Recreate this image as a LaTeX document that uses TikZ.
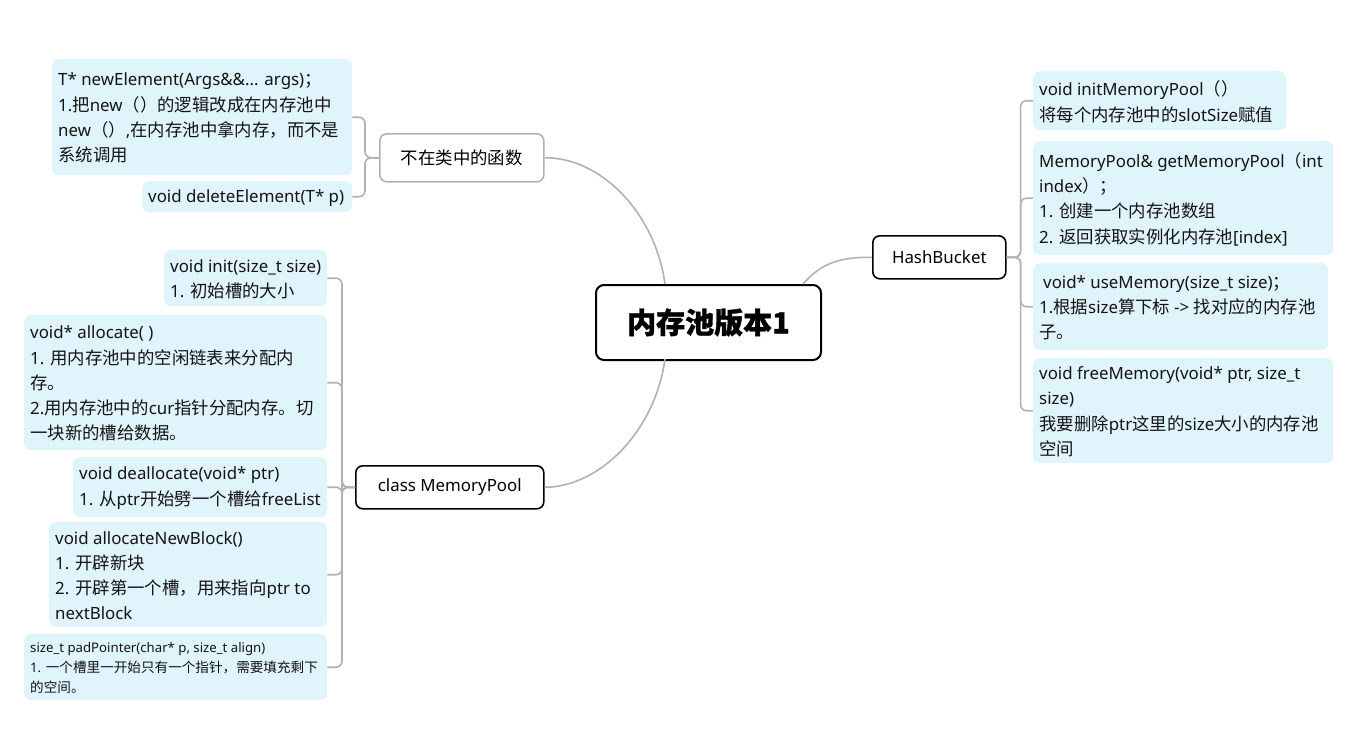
\documentclass[tikz,border=0pt]{standalone}
\usepackage{fontspec}
\setmainfont{Noto Sans}[Scale=0.97]
\newfontfamily\cjkf{Noto Sans CJK SC}
\newfontfamily\titlef{Noto Sans CJK SC}[BoldFeatures={FakeBold=1.2}]
\newfontfamily\latf{Noto Sans}[Scale=0.97]
\newXeTeXintercharclass\cjkcls
\makeatletter
\count@="3000
\loop \XeTeXcharclass\count@=\cjkcls \advance\count@ by 1 \ifnum\count@<"A000 \repeat
\count@="FF00
\loop \XeTeXcharclass\count@=\cjkcls \advance\count@ by 1 \ifnum\count@<"FFF0 \repeat
\makeatother
\XeTeXinterchartoks 0 \cjkcls = {\cjkf}
\XeTeXinterchartoks 4095 \cjkcls = {\cjkf}
\XeTeXinterchartoks \cjkcls 0 = {\latf}
\XeTeXinterchartoks 4095 0 = {\latf}
\XeTeXinterchartokenstate=1
\definecolor{leafc}{RGB}{224,244,252}
\definecolor{connc}{RGB}{178,178,178}
\definecolor{txtc}{RGB}{20,20,20}
\tikzset{
  leafbox/.style={fill=leafc, rounded corners=7pt, anchor=north west, inner sep=0pt, draw=none},
  leaftext/.style={anchor=west, inner xsep=6pt, inner ysep=0pt, align=left, text=txtc, font={\fontsize{17.4}{25.3}\selectfont}},
  smalltext/.style={leaftext, font={\fontsize{13.6}{20}\selectfont}},
  branch/.style={draw=black, line width=1.6pt, rounded corners=7pt, fill=white, anchor=north west, inner sep=0pt, text=black, font={\fontsize{17.4}{22}\selectfont}},
  rootbox/.style={draw=black, line width=2pt, rounded corners=8pt, fill=white, anchor=north west, inner sep=0pt, font={\XeTeXinterchartokenstate=0 \titlef\fontsize{29}{34}\selectfont\bfseries}},
  conn/.style={draw=connc, line width=1.6pt}
}
% #1 text style, #2 name, #3 x, #4 y, #5 w, #6 h, #7 text
\newcommand\leafnode[7][leaftext]{%
  \node[leafbox, minimum width=#5pt, minimum height=#6pt] (#2) at (#3,#4) {};
  \node[#1] (#2-t) at ([yshift=-1pt]#2.west) {#7};}
\begin{document}
\begin{tikzpicture}[x=1pt,y=-1pt]
\fill[white] (0,0) rectangle (1368,731);
\useasboundingbox (0,0) rectangle (1368,731);

% root
\node[rootbox, minimum width=225pt, minimum height=75pt] (root) at (595,284) {内存池版本1};

% branches
\node[branch, draw=connc, minimum width=164pt, minimum height=48pt] (fn) at (379,133) {不在类中的函数};
\node[branch, minimum width=188pt, minimum height=43pt] (cls) at (355,465) {class MemoryPool};
\node[branch, minimum width=133pt, minimum height=43pt] (hb) at (872,235) {HashBucket};

% leaves of fn
\leafnode{newEl}{52}{59}{300}{116}
  {T* newElement(Args\&\&... args)；\\1.把new（）的逻辑改成在内存池中\\new（）,在内存池中拿内存，而不是\\系统调用}
\leafnode{delEl}{142}{181}{210}{31}
  {void deleteElement(T* p)}

% leaves of cls
\leafnode{init}{164}{250}{163}{56}
  {void init(size\_t size)\\1. 初始槽的大小}
\leafnode{alloc}{24}{315}{303}{135}
  {void* allocate( )\\1. 用内存池中的空闲链表来分配内\\存。\\2.用内存池中的cur指针分配内存。切\\一块新的槽给数据。}
\leafnode{dealloc}{73}{457}{254}{60}
  {void deallocate(void* ptr)\\1. 从ptr开始劈一个槽给freeList}
\leafnode{anb}{49}{522}{278}{105}
  {void allocateNewBlock()\\1. 开辟新块\\2. 开辟第一个槽，用来指向ptr to\\nextBlock}
\leafnode[smalltext]{pad}{24}{634}{303}{66}
  {size\_t padPointer(char* p, size\_t align)\\1. 一个槽里一开始只有一个指针，需要填充剩下\\的空间。}

% leaves of hb
\leafnode{imp}{1033}{71}{253}{59}
  {void initMemoryPool（）\\将每个内存池中的slotSize赋值}
\leafnode{gmp}{1033}{141}{300}{114}
  {MemoryPool\& getMemoryPool（int\\index）；\\1. 创建一个内存池数组\\2. 返回获取实例化内存池[index]}
\leafnode{ume}{1033}{263}{295}{87}
  {\hspace*{4pt}void* useMemory(size\_t size)；\\1.根据size算下标 -> 找对应的内存池\\子。}
\leafnode{fm}{1033}{358}{300}{105}
  {void freeMemory(void* ptr, size\_t\\size)\\我要删除ptr这里的size大小的内存池\\空间}

% main connectors
\coordinate (rtTop) at (665,284);
\coordinate (rtBot) at (665,359);
\coordinate (rtR) at (803,284);
\draw[conn] (fn.east) .. controls (600,157) and (655,212) .. (rtTop);
\draw[conn] (cls.east) .. controls (600,487) and (655,431) .. (rtBot);
\draw[conn] (rtR) .. controls (822,262) and (842,257) .. (hb.west);

% brackets
\foreach \n in {newEl,delEl}
  \draw[conn, rounded corners=6pt] (fn.west) -- ++(-14,0) |- (\n.east);
\foreach \n in {init,alloc,dealloc,anb,pad}
  \draw[conn, rounded corners=6pt] (cls.west) -- ++(-13,0) |- (\n.east);
\foreach \n in {imp,gmp,ume,fm}
  \draw[conn, rounded corners=6pt] (hb.east) -- ++(14,0) |- (\n.west);
\end{tikzpicture}
\end{document}
